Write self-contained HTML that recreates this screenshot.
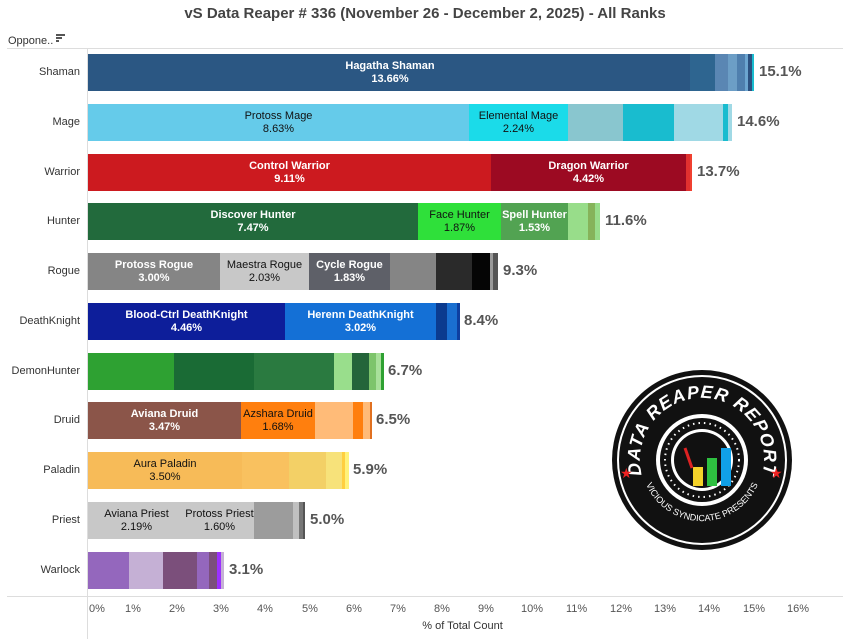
<!DOCTYPE html>
<html><head><meta charset="utf-8"><style>
body{margin:0;width:850px;height:639px;background:#fff;font-family:"Liberation Sans",Arial,sans-serif;position:relative;overflow:hidden}
.a{position:absolute}
.r{position:absolute;left:0;height:37px;width:850px}
.s{position:absolute;top:0;height:37px}
.t{position:absolute;top:0;height:37px;display:flex;flex-direction:column;justify-content:center;align-items:center;font-size:11px;line-height:13px;white-space:nowrap;color:#fff;font-weight:bold}
.t.d{color:#111;font-weight:normal}
.v{position:absolute;top:9px;font-size:15px;font-weight:bold;color:#555}
.c{position:absolute;right:770px;top:12px;font-size:11px;color:#333}
.tk{position:absolute;top:603px;font-size:11px;color:#555}
</style></head><body>
<div class="a" style="left:0;top:5px;width:850px;text-align:center;font-size:15px;font-weight:bold;color:#444">vS Data Reaper # 336 (November 26 - December 2, 2025) - All Ranks</div>
<div class="a" style="left:8px;top:35px;font-size:11px;color:#333">Oppone..</div>
<div class="a" style="left:56px;top:34px;width:9px;height:2px;background:#555"></div>
<div class="a" style="left:56px;top:37px;width:6px;height:2px;background:#555"></div>
<div class="a" style="left:56px;top:40px;width:3px;height:2px;background:#555"></div>
<div class="a" style="left:7px;top:48px;width:836px;height:1px;background:#ddd"></div>
<div class="a" style="left:7px;top:596px;width:836px;height:1px;background:#ddd"></div>
<div class="a" style="left:87px;top:48px;width:1px;height:591px;background:#ddd"></div>

<div class="r" style="top:54px"><div class="c">Shaman</div>
<div class="s" style="left:88px;width:604px;background:#2b5783"></div>
<div class="s" style="left:690px;width:25px;background:#2e6590"></div>
<div class="s" style="left:715px;width:13px;background:#5a86b3"></div>
<div class="s" style="left:728px;width:9px;background:#6c9ec6"></div>
<div class="s" style="left:737px;width:8px;background:#4f7fae"></div>
<div class="s" style="left:745px;width:3px;background:#6ca5d0"></div>
<div class="s" style="left:748px;width:4px;background:#2c5080"></div>
<div class="s" style="left:752px;width:2px;background:#19bccf"></div>
<div class="t" style="left:88px;width:604px">Hagatha Shaman<span>13.66%</span></div>
<div class="v" style="left:759px">15.1%</div></div>

<div class="r" style="top:104px"><div class="c">Mage</div>
<div class="s" style="left:88px;width:381px;background:#65cbea"></div>
<div class="s" style="left:469px;width:99px;background:#1bdbe9"></div>
<div class="s" style="left:568px;width:55px;background:#89c6cf"></div>
<div class="s" style="left:623px;width:51px;background:#19bccf"></div>
<div class="s" style="left:674px;width:49px;background:#a0d9e5"></div>
<div class="s" style="left:723px;width:5px;background:#19bccf"></div>
<div class="s" style="left:728px;width:4px;background:#a0d9e5"></div>
<div class="t d" style="left:88px;width:381px">Protoss Mage<span>8.63%</span></div>
<div class="t d" style="left:469px;width:99px">Elemental Mage<span>2.24%</span></div>
<div class="v" style="left:737px">14.6%</div></div>

<div class="r" style="top:154px"><div class="c">Warrior</div>
<div class="s" style="left:88px;width:403px;background:#cc1a1f"></div>
<div class="s" style="left:491px;width:195px;background:#9c0a22"></div>
<div class="s" style="left:686px;width:4px;background:#e0312f"></div>
<div class="s" style="left:690px;width:2px;background:#f04030"></div>
<div class="t" style="left:88px;width:403px">Control Warrior<span>9.11%</span></div>
<div class="t" style="left:491px;width:195px">Dragon Warrior<span>4.42%</span></div>
<div class="v" style="left:697px">13.7%</div></div>

<div class="r" style="top:203px"><div class="c">Hunter</div>
<div class="s" style="left:88px;width:330px;background:#226a3c"></div>
<div class="s" style="left:418px;width:83px;background:#2fe03a"></div>
<div class="s" style="left:501px;width:67px;background:#52a352"></div>
<div class="s" style="left:568px;width:20px;background:#98dd8a"></div>
<div class="s" style="left:588px;width:7px;background:#86b35a"></div>
<div class="s" style="left:595px;width:5px;background:#98dd8a"></div>
<div class="t" style="left:88px;width:330px">Discover Hunter<span>7.47%</span></div>
<div class="t d" style="left:418px;width:83px">Face Hunter<span>1.87%</span></div>
<div class="t" style="left:501px;width:67px">Spell Hunter<span>1.53%</span></div>
<div class="v" style="left:605px">11.6%</div></div>

<div class="r" style="top:253px"><div class="c">Rogue</div>
<div class="s" style="left:88px;width:132px;background:#858585"></div>
<div class="s" style="left:220px;width:89px;background:#c8c8c8"></div>
<div class="s" style="left:309px;width:81px;background:#5e6068"></div>
<div class="s" style="left:390px;width:46px;background:#858585"></div>
<div class="s" style="left:436px;width:36px;background:#2a2a2a"></div>
<div class="s" style="left:472px;width:18px;background:#050505"></div>
<div class="s" style="left:490px;width:3px;background:#999"></div>
<div class="s" style="left:493px;width:5px;background:#555"></div>
<div class="t" style="left:88px;width:132px">Protoss Rogue<span>3.00%</span></div>
<div class="t d" style="left:220px;width:89px">Maestra Rogue<span>2.03%</span></div>
<div class="t" style="left:309px;width:81px">Cycle Rogue<span>1.83%</span></div>
<div class="v" style="left:503px">9.3%</div></div>

<div class="r" style="top:303px"><div class="c">DeathKnight</div>
<div class="s" style="left:88px;width:197px;background:#0d1e9a"></div>
<div class="s" style="left:285px;width:151px;background:#1470d6"></div>
<div class="s" style="left:436px;width:11px;background:#0b3b8f"></div>
<div class="s" style="left:447px;width:10px;background:#1a6fd0"></div>
<div class="s" style="left:457px;width:3px;background:#0e3fa0"></div>
<div class="t" style="left:88px;width:197px">Blood-Ctrl DeathKnight<span>4.46%</span></div>
<div class="t" style="left:285px;width:151px">Herenn DeathKnight<span>3.02%</span></div>
<div class="v" style="left:464px">8.4%</div></div>

<div class="r" style="top:353px"><div class="c">DemonHunter</div>
<div class="s" style="left:88px;width:86px;background:#2ea132"></div>
<div class="s" style="left:174px;width:80px;background:#1a6b35"></div>
<div class="s" style="left:254px;width:80px;background:#2a7a40"></div>
<div class="s" style="left:334px;width:18px;background:#99de8c"></div>
<div class="s" style="left:352px;width:17px;background:#24653a"></div>
<div class="s" style="left:369px;width:7px;background:#7dc46b"></div>
<div class="s" style="left:376px;width:5px;background:#a8e09a"></div>
<div class="s" style="left:381px;width:3px;background:#2ea132"></div>
<div class="v" style="left:388px">6.7%</div></div>

<div class="r" style="top:402px"><div class="c">Druid</div>
<div class="s" style="left:88px;width:153px;background:#8b5549"></div>
<div class="s" style="left:241px;width:74px;background:#ff7f0e"></div>
<div class="s" style="left:315px;width:38px;background:#ffbb78"></div>
<div class="s" style="left:353px;width:10px;background:#ff7f0e"></div>
<div class="s" style="left:363px;width:7px;background:#ffbb78"></div>
<div class="s" style="left:370px;width:2px;background:#e07020"></div>
<div class="t" style="left:88px;width:153px">Aviana Druid<span>3.47%</span></div>
<div class="t d" style="left:241px;width:74px">Azshara Druid<span>1.68%</span></div>
<div class="v" style="left:376px">6.5%</div></div>

<div class="r" style="top:452px"><div class="c">Paladin</div>
<div class="s" style="left:88px;width:154px;background:#f7bb58"></div>
<div class="s" style="left:242px;width:47px;background:#f9c15f"></div>
<div class="s" style="left:289px;width:37px;background:#f3d066"></div>
<div class="s" style="left:326px;width:16px;background:#f7e27a"></div>
<div class="s" style="left:342px;width:3px;background:#ffcf40"></div>
<div class="s" style="left:345px;width:4px;background:#fff27a"></div>
<div class="t d" style="left:88px;width:154px">Aura Paladin<span>3.50%</span></div>
<div class="v" style="left:353px">5.9%</div></div>

<div class="r" style="top:502px"><div class="c">Priest</div>
<div class="s" style="left:88px;width:166px;background:#c8c8c8"></div>
<div class="s" style="left:254px;width:39px;background:#9c9c9c"></div>
<div class="s" style="left:293px;width:6px;background:#c0c0c0"></div>
<div class="s" style="left:299px;width:4px;background:#777"></div>
<div class="s" style="left:303px;width:2px;background:#555"></div>
<div class="t d" style="left:88px;width:97px">Aviana Priest<span>2.19%</span></div>
<div class="t d" style="left:185px;width:69px">Protoss Priest<span>1.60%</span></div>
<div class="v" style="left:310px">5.0%</div></div>

<div class="r" style="top:552px"><div class="c">Warlock</div>
<div class="s" style="left:88px;width:41px;background:#9467bd"></div>
<div class="s" style="left:129px;width:34px;background:#c5b0d5"></div>
<div class="s" style="left:163px;width:34px;background:#7b4f7b"></div>
<div class="s" style="left:197px;width:12px;background:#9467bd"></div>
<div class="s" style="left:209px;width:8px;background:#7b4f7b"></div>
<div class="s" style="left:217px;width:4px;background:#9b30ff"></div>
<div class="s" style="left:221px;width:3px;background:#c5b0d5"></div>
<div class="v" style="left:229px">3.1%</div></div>

<div class="tk" style="left:89px">0%</div><div class="tk" style="left:125px">1%</div>
<div class="tk" style="left:169px">2%</div><div class="tk" style="left:213px">3%</div>
<div class="tk" style="left:257px">4%</div><div class="tk" style="left:302px">5%</div>
<div class="tk" style="left:346px">6%</div><div class="tk" style="left:390px">7%</div>
<div class="tk" style="left:434px">8%</div><div class="tk" style="left:478px">9%</div>
<div class="tk" style="left:521px">10%</div><div class="tk" style="left:566px">11%</div>
<div class="tk" style="left:610px">12%</div><div class="tk" style="left:654px">13%</div>
<div class="tk" style="left:698px">14%</div><div class="tk" style="left:743px">15%</div>
<div class="tk" style="left:787px">16%</div>
<div class="a" style="left:0;width:925px;text-align:center;top:620px;font-size:11px;color:#333">% of Total Count</div>

<svg class="a" style="left:610px;top:368px" width="184" height="184" viewBox="0 0 184 184">
<defs><path id="tp" d="M38.3,123 A62,62 0 1 1 145.7,123"/><path id="bp" d="M33.1,108 A61,61 0 0 0 150.9,108"/></defs>
<circle cx="92" cy="92" r="90" fill="#111"/>
<circle cx="92" cy="92" r="84" fill="none" stroke="#fff" stroke-width="2"/>
<circle cx="92" cy="92" r="46" fill="#fff"/>
<circle cx="92" cy="92" r="42" fill="#111"/>
<circle cx="92" cy="92" r="37" fill="none" stroke="#fff" stroke-width="2" stroke-dasharray="1.5 4"/>
<circle cx="92" cy="92" r="31" fill="#fff"/>
<circle cx="92" cy="92" r="28" fill="#111"/>
<text font-family="Liberation Sans" font-weight="bold" font-style="italic" font-size="18" fill="#fff" letter-spacing="1"><textPath href="#tp" startOffset="50%" text-anchor="middle">DATA REAPER REPORT</textPath></text>
<text font-family="Liberation Sans" font-size="9" fill="#fff"><textPath href="#bp" startOffset="50%" text-anchor="middle">VICIOUS SYNDICATE PRESENTS</textPath></text>
<rect x="83" y="99" width="10" height="19" fill="#f5d32a"/>
<rect x="97" y="90" width="10" height="28" fill="#2ec040"/>
<rect x="111" y="80" width="10" height="38" fill="#10a0e8"/>
<path d="M75,80 L82,100" stroke="#d22" stroke-width="3"/>
<text x="10" y="110" fill="#e22" font-size="14">★</text><text x="160" y="110" fill="#e22" font-size="14">★</text>
</svg>
</body></html>
